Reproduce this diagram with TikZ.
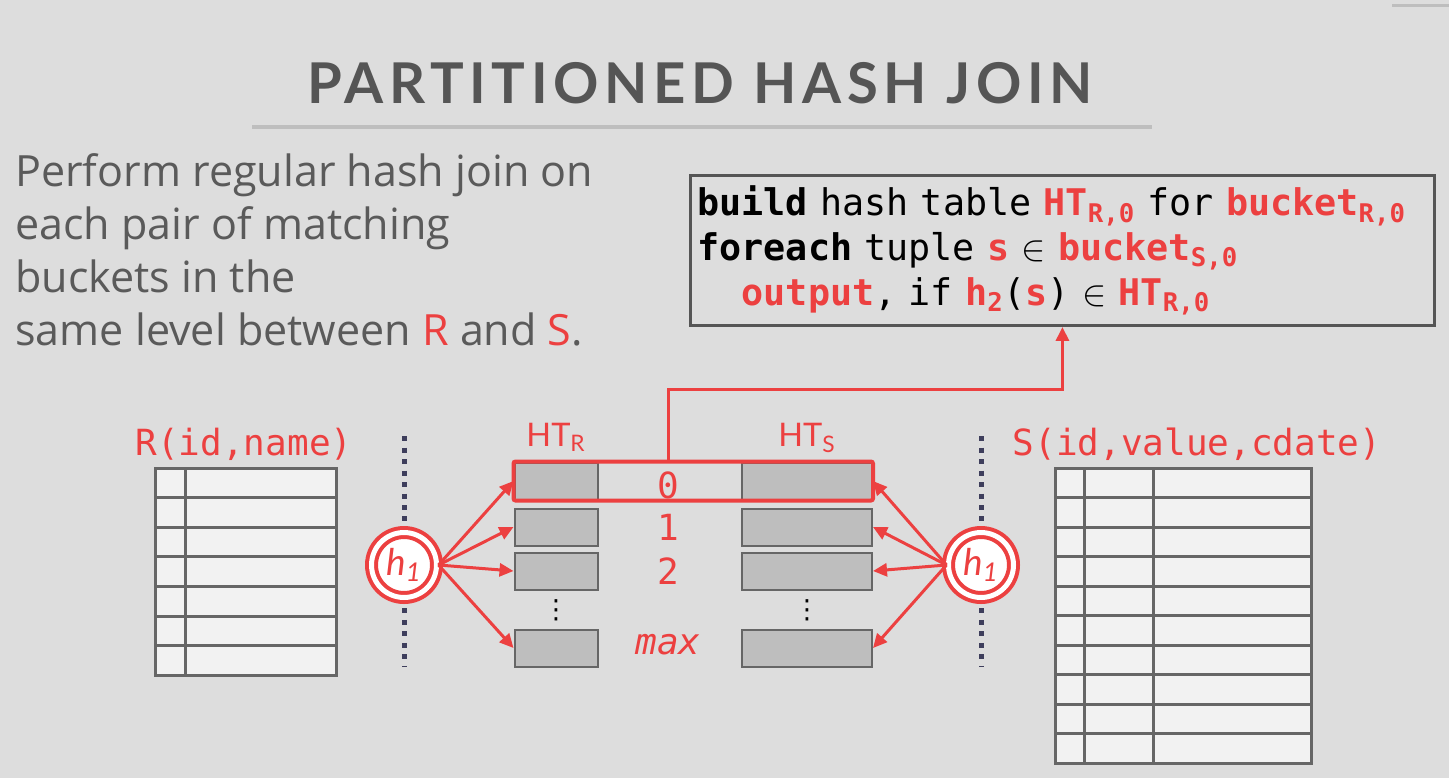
\documentclass[tikz,border=0pt]{standalone}
\usepackage{fontspec}
\setmainfont{Open Sans}
\setmonofont{DejaVu Sans Mono}
\newfontfamily\titlefont[LetterSpace=10]{Lato}
\newfontfamily\latofont{Lato}
\newfontfamily\symfont{DejaVu Sans}
\usetikzlibrary{arrows.meta,fit}
\pgfdeclarelayer{background}
\pgfsetlayers{background,main}
\definecolor{slidebg}{HTML}{DDDDDD}
\definecolor{hred}{RGB}{236,64,64}
\definecolor{titlegray}{HTML}{555555}
\definecolor{textgray}{HTML}{5A5A5A}
\definecolor{rulegray}{HTML}{BEBEBE}
\definecolor{cellfill}{HTML}{F2F2F2}
\definecolor{cellline}{HTML}{666666}
\definecolor{bucketfill}{HTML}{BEBEBE}
\definecolor{sepcolor}{HTML}{3E3E5C}
\newcommand{\hr}[1]{\textcolor{hred}{\bfseries #1}}
\tikzstyle{bucket}=[draw=cellline, fill=bucketfill, line width=0.04cm,
    minimum height=0.74cm, inner sep=0]
\tikzstyle{hash}=[circle, draw=hred, double=white, double distance=0.1cm,
    line width=0.08cm, fill=white, minimum size=1.3cm, inner sep=0,
    text=hred, font=\latofont\itshape\fontsize{21}{22}\selectfont]
\tikzstyle{lbl}=[text=hred, font=\ttfamily\fontsize{20.5}{22}\selectfont]
\tikzstyle{cell}=[draw=cellline, fill=cellfill, line width=0.06cm]
\tikzstyle{flow}=[draw=hred, line width=0.06cm, ->]
\tikzstyle{sepline}=[draw=sepcolor, line width=0.1cm, dash pattern=on 0.1cm off 0.13cm]
\tikzstyle{more}=[inner sep=0, font=\symfont\fontsize{15}{15}\selectfont]
\begin{document}
\begin{tikzpicture}[x=0.02cm, y=-0.02cm, >={Triangle[length=0.28cm,width=0.26cm]}]
  \useasboundingbox (0,0) rectangle (1449,778);
  \begin{pgfonlayer}{background}
    \fill[slidebg] (0,0) rectangle (1449,778);
  \end{pgfonlayer}
  \draw[rulegray, line width=0.06cm] (1392,5) -- (1449,5);

  % title
  \node[text=titlegray, font=\titlefont\bfseries\fontsize{32}{36}\selectfont] at (700,83) (title) {PARTITIONED HASH JOIN};
  \draw[rulegray, line width=0.08cm] (252,127) -- (1152,127);

  \node[anchor=north west, align=left, inner sep=0, text=textgray,
    font=\fontsize{24.5}{30.2}\selectfont] at (15,153) (intro)
    {Perform regular hash join on\\each pair of matching\\buckets in the\\same level between \textcolor{hred}{R} and \textcolor{hred}{S}.};

  % tables
  \node[lbl, anchor=base] at (244,455) (rname) {R(id,name)};
  \node[lbl, anchor=base] at (1197,455) (sname) {S(id,value,cdate)};
  \foreach \i in {0,...,6}
    \draw[cell] (155,{468+\i*29.6}) rectangle (185,{497.6+\i*29.6})
                (185,{468+\i*29.6}) rectangle (336,{497.6+\i*29.6});
  \foreach \i in {0,...,9}
    \draw[cell] (1055,{468+\i*29.5}) rectangle (1084,{497.5+\i*29.5})
                (1084,{468+\i*29.5}) rectangle (1153,{497.5+\i*29.5})
                (1153,{468+\i*29.5}) rectangle (1311,{497.5+\i*29.5});

  \draw[sepline] (404,436) -- (404,667);
  \draw[sepline] (981,436) -- (981,667);

  % hash tables
  \node[text=hred, font=\latofont\fontsize{18.5}{20}\selectfont, anchor=base] at (556,446) (htR) {HT\textsubscript{R}};
  \node[text=hred, font=\latofont\fontsize{18.5}{20}\selectfont, anchor=base] at (807,446) (htS) {HT\textsubscript{S}};
  \node[bucket, minimum width=1.66cm] at (556,481) (bR0) {};
  \node[bucket, minimum width=1.66cm] at (556,527) (bR1) {};
  \node[bucket, minimum width=1.66cm] at (556,571) (bR2) {};
  \node[bucket, minimum width=1.66cm] at (556,648) (bRm) {};
  \node[bucket, minimum width=2.6cm] at (807,481) (bS0) {};
  \node[bucket, minimum width=2.6cm] at (807,527) (bS1) {};
  \node[bucket, minimum width=2.6cm] at (807,571) (bS2) {};
  \node[bucket, minimum width=2.6cm] at (807,648) (bSm) {};
  \node[more] at (556,610) (dotsR) {⋮};
  \node[more] at (807,610) (dotsS) {⋮};
  \node[fit=(bR0)(bS0), inner sep=0, draw=hred, line width=0.08cm, rounded corners=0.04cm] (row0) {};
  \node[lbl] at (668,485) (lbl0) {0};
  \node[lbl] at (668,527) (lbl1) {1};
  \node[lbl] at (668,571) (lbl2) {2};
  \node[lbl, font=\ttfamily\itshape\fontsize{20.5}{22}\selectfont] at (668,645) (lblm) {max};

  \node[hash] at (404,565) (hR) {h\textsubscript{1}};
  \node[hash] at (981,565) (hS) {h\textsubscript{1}};
  \draw[flow] (hR.east) -- (bR0.west);
  \draw[flow] (hR.east) -- (bR1.west);
  \draw[flow] (hR.east) -- (bR2.west);
  \draw[flow] (hR.east) -- (bRm.west);
  \draw[flow] (hS.west) -- (bS0.east);
  \draw[flow] (hS.west) -- (bS1.east);
  \draw[flow] (hS.west) -- (bS2.east);
  \draw[flow] (hS.west) -- (bSm.east);

  % probe code
  \node[draw=titlegray, line width=0.06cm, anchor=north west, minimum width=14.88cm,
    minimum height=3cm, text width=14.6cm, align=left, inner xsep=0.14cm,
    font=\ttfamily\fontsize{20.9}{25.5}\selectfont] at (689,174) (code)
    {\textbf{build} hash table \hr{HT\textsubscript{R,0}} for \hr{bucket\textsubscript{R,0}}\\
     \textbf{foreach} tuple \hr{s} $\in$ \hr{bucket\textsubscript{S,0}}\\
     \phantom{bu}\hr{output}, if \hr{h\textsubscript{2}}(\hr{s}) $\in$ \hr{HT\textsubscript{R,0}}};
  \draw[flow] (lbl0.north |- row0.north) -- ++(0,-70) -| (code.south);
\end{tikzpicture}
\end{document}
